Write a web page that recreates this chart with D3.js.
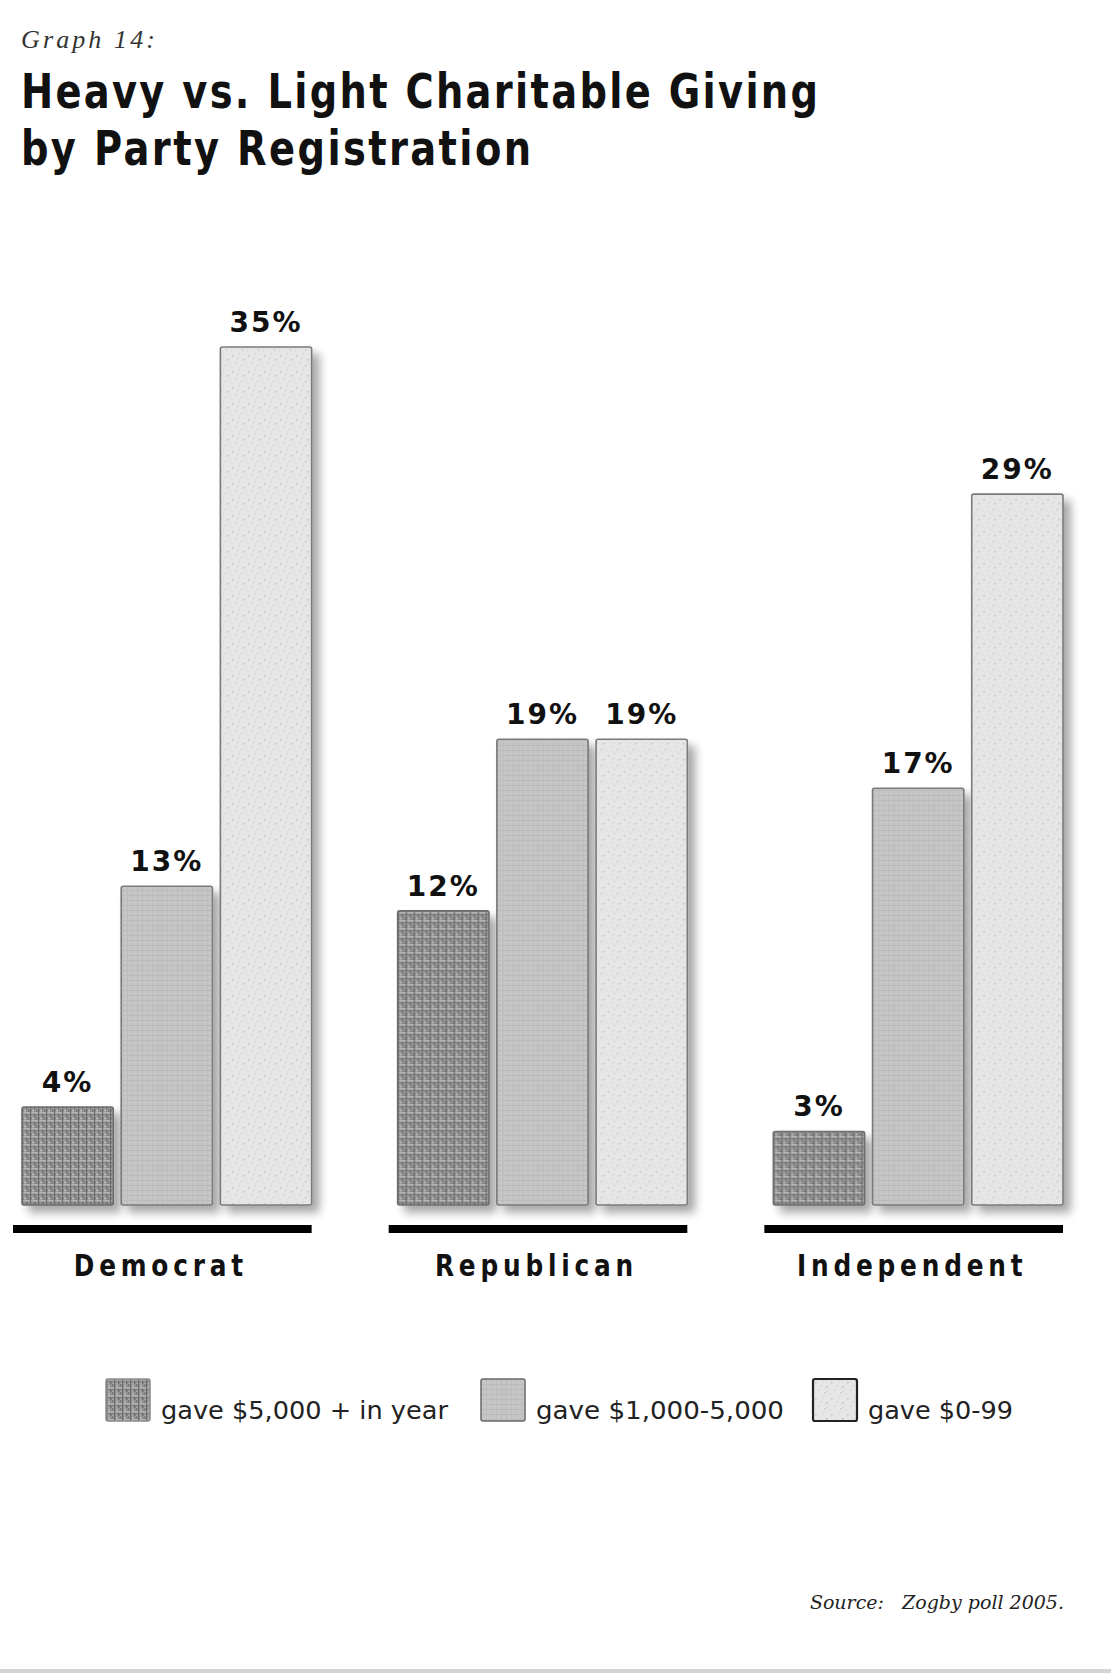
<!DOCTYPE html>
<html>
<head>
<meta charset="utf-8">
<script src="https://cdn.jsdelivr.net/npm/d3@7/dist/d3.min.js"></script>
<style>
  html, body { margin: 0; padding: 0; background: #fff; }
  svg { display: block; }
</style>
</head>
<body>
<script>
// ---- data ----
const parties = ["Democrat", "Republican", "Independent"];
const seriesKeys = ["heavy", "mid", "light"];
const seriesLabels = ["gave $5,000 + in year", "gave $1,000-5,000", "gave $0-99"];
const heavyValues = [4, 12, 3];
const midValues = [13, 19, 17];
const lightValues = [35, 19, 29];
const titleLines = ["Heavy vs. Light Charitable Giving", "by Party Registration"];
const kicker = "Graph 14:";
const sourceText = "Source:   Zogby poll 2005.";

const W = 1111, H = 1673;
const SANS = "'DejaVu Sans', 'Liberation Sans', Arial, sans-serif";
const svg = d3.select("body").append("svg").attr("width", W).attr("height", H);

// ---- defs: textures & shadow ----
const defs = svg.append("defs");
const f = defs.append("filter").attr("id", "shadow").attr("x", "-20%").attr("y", "-20%").attr("width", "160%").attr("height", "160%");
f.append("feGaussianBlur").attr("in", "SourceAlpha").attr("stdDeviation", 5).attr("result", "b");
f.append("feOffset").attr("in", "b").attr("dx", 7).attr("dy", 7).attr("result", "o");
f.append("feComponentTransfer").attr("in", "o").attr("result", "o2")
  .append("feFuncA").attr("type", "linear").attr("slope", 0.35);
const fm = f.append("feMerge");
fm.append("feMergeNode").attr("in", "o2");
fm.append("feMergeNode").attr("in", "SourceGraphic");

// heavy: dark woven texture
const pH = defs.append("pattern").attr("id", "texHeavy").attr("patternUnits", "userSpaceOnUse").attr("width", 8).attr("height", 8);
pH.append("rect").attr("width", 8).attr("height", 8).attr("fill", "#8e8e8e");
pH.append("rect").attr("x", 0).attr("y", 0).attr("width", 8).attr("height", 1.5).attr("fill", "#b4b4b4");
pH.append("rect").attr("x", 0).attr("y", 4).attr("width", 8).attr("height", 1.2).attr("fill", "#a6a6a6");
pH.append("rect").attr("x", 0).attr("y", 0).attr("width", 1.2).attr("height", 8).attr("fill", "#6a6a6a");
pH.append("rect").attr("x", 4).attr("y", 2).attr("width", 1.5).attr("height", 3).attr("fill", "#6e6e6e");
pH.append("rect").attr("x", 2).attr("y", 6).attr("width", 2).attr("height", 1.3).attr("fill", "#c2c2c2");
pH.append("rect").attr("x", 6).attr("y", 5.5).attr("width", 1.2).attr("height", 2).attr("fill", "#747474");

// mid: fine grid
const pM = defs.append("pattern").attr("id", "texMid").attr("patternUnits", "userSpaceOnUse").attr("width", 5).attr("height", 5);
pM.append("rect").attr("width", 5).attr("height", 5).attr("fill", "#c6c6c6");
pM.append("rect").attr("x", 0).attr("y", 0).attr("width", 5).attr("height", 1).attr("fill", "#bababa");
pM.append("rect").attr("x", 0).attr("y", 0).attr("width", 1).attr("height", 5).attr("fill", "#bdbdbd");

// light: speckled
const pL = defs.append("pattern").attr("id", "texLight").attr("patternUnits", "userSpaceOnUse").attr("width", 16).attr("height", 16);
pL.append("rect").attr("width", 16).attr("height", 16).attr("fill", "#e6e6e6");
[[2,3,"#c4c4c4"],[9,1,"#d4d4d4"],[13,7,"#bdbdbd"],[5,10,"#d0d0d0"],[11,13,"#c8c8c8"],[1,14,"#d8d8d8"],[7,6,"#d6d6d6"],[14,11,"#dadada"]]
  .forEach(([x, y, c]) => pL.append("rect").attr("x", x).attr("y", y).attr("width", 1.5).attr("height", 1.5).attr("fill", c));

const fills = { heavy: "url(#texHeavy)", mid: "url(#texMid)", light: "url(#texLight)" };
const strokes = { heavy: "#6c6c6c", mid: "#7a7a7a", light: "#7a7a7a" };

// ---- header ----
svg.append("text").attr("x", 21).attr("y", 48)
  .attr("font-family", "'Liberation Serif', 'DejaVu Serif', serif").attr("font-style", "italic")
  .attr("font-size", 26).attr("fill", "#333")
  .attr("textLength", 134).attr("lengthAdjust", "spacing").text(kicker);

const titleY = [108, 165];
const titleW = [797, 510];
const condX = 0.8;
titleLines.forEach((t, i) => {
  svg.append("g").attr("transform", `translate(21,${titleY[i]}) scale(${condX},1)`)
    .append("text").attr("x", 0).attr("y", 0)
    .attr("font-family", SANS)
    .attr("font-size", 48).attr("font-weight", "bold").attr("fill", "#111")
    .attr("textLength", titleW[i] / condX).attr("lengthAdjust", "spacing").text(t);
});

// ---- scales ----
const x0 = d3.scaleBand().domain(parties).range([22, 1063]).paddingInner(0.229).paddingOuter(0);
const x1 = d3.scaleBand().domain(seriesKeys).range([0, x0.bandwidth()]).paddingInner(0.08).paddingOuter(0);
const y = d3.scaleLinear().domain([0, 35]).range([1205, 347]);

const rows = parties.map((p, i) => ({
  party: p,
  vals: [
    { key: "heavy", v: heavyValues[i] },
    { key: "mid", v: midValues[i] },
    { key: "light", v: lightValues[i] }
  ]
}));

const g = svg.append("g");
const grp = g.selectAll("g.party").data(rows).join("g").attr("class", "party")
  .attr("transform", d => `translate(${x0(d.party)},0)`);

grp.selectAll("rect.bar").data(d => d.vals).join("rect").attr("class", "bar")
  .attr("x", d => x1(d.key)).attr("width", x1.bandwidth())
  .attr("y", d => y(d.v)).attr("height", d => y(0) - y(d.v))
  .attr("rx", 2)
  .attr("fill", d => fills[d.key]).attr("stroke", d => strokes[d.key]).attr("stroke-width", 1.6)
  .attr("filter", "url(#shadow)");

grp.selectAll("text.val").data(d => d.vals).join("text").attr("class", "val")
  .attr("x", d => x1(d.key) + x1.bandwidth() / 2).attr("y", d => y(d.v) - 15)
  .attr("text-anchor", "middle")
  .attr("font-family", SANS).attr("font-weight", "bold")
  .attr("font-size", 28).attr("letter-spacing", 2).attr("fill", "#111")
  .text(d => d.v + "%");

// baseline bars
grp.append("rect").attr("x", -9).attr("y", 1225).attr("width", x0.bandwidth() + 9).attr("height", 8).attr("fill", "#000");

// party labels (condensed by horizontal scale)
grp.append("g").attr("transform", `translate(${x0.bandwidth() / 2 - 6},1276) scale(0.8,1)`)
  .append("text").attr("x", 0).attr("y", 0).attr("text-anchor", "middle")
  .attr("font-family", SANS)
  .attr("font-size", 31).attr("font-weight", "bold").attr("letter-spacing", 6).attr("fill", "#111")
  .text(d => d.party);

// ---- legend ----
const legendX = [106, 481, 813];
const legendTextW = [287, 248, 145];
const legendStroke = ["#8a8a8a", "#6a6a6a", "#222"];
const lg = svg.append("g").selectAll("g").data(seriesKeys).join("g")
  .attr("transform", (d, i) => `translate(${legendX[i]},1379)`);
lg.append("rect").attr("width", 44).attr("height", 42).attr("rx", 2)
  .attr("fill", d => fills[d]).attr("stroke", (d, i) => legendStroke[i]).attr("stroke-width", (d, i) => i === 2 ? 2.2 : 1.5);
lg.append("text").attr("x", 55).attr("y", 40)
  .attr("font-family", SANS)
  .attr("font-size", 25).attr("fill", "#222")
  .attr("textLength", (d, i) => legendTextW[i]).attr("lengthAdjust", "spacingAndGlyphs")
  .text((d, i) => seriesLabels[i]);

// ---- source ----
svg.append("text").attr("x", 1064).attr("y", 1609).attr("text-anchor", "end")
  .attr("font-family", "'DejaVu Serif', 'Liberation Serif', serif").attr("font-style", "italic")
  .attr("font-size", 19).attr("fill", "#222").style("white-space", "pre")
  .text(sourceText);

// bottom rule
svg.append("rect").attr("x", 0).attr("y", 1669).attr("width", W).attr("height", 4).attr("fill", "#d4d4d4");
</script>
</body>
</html>
